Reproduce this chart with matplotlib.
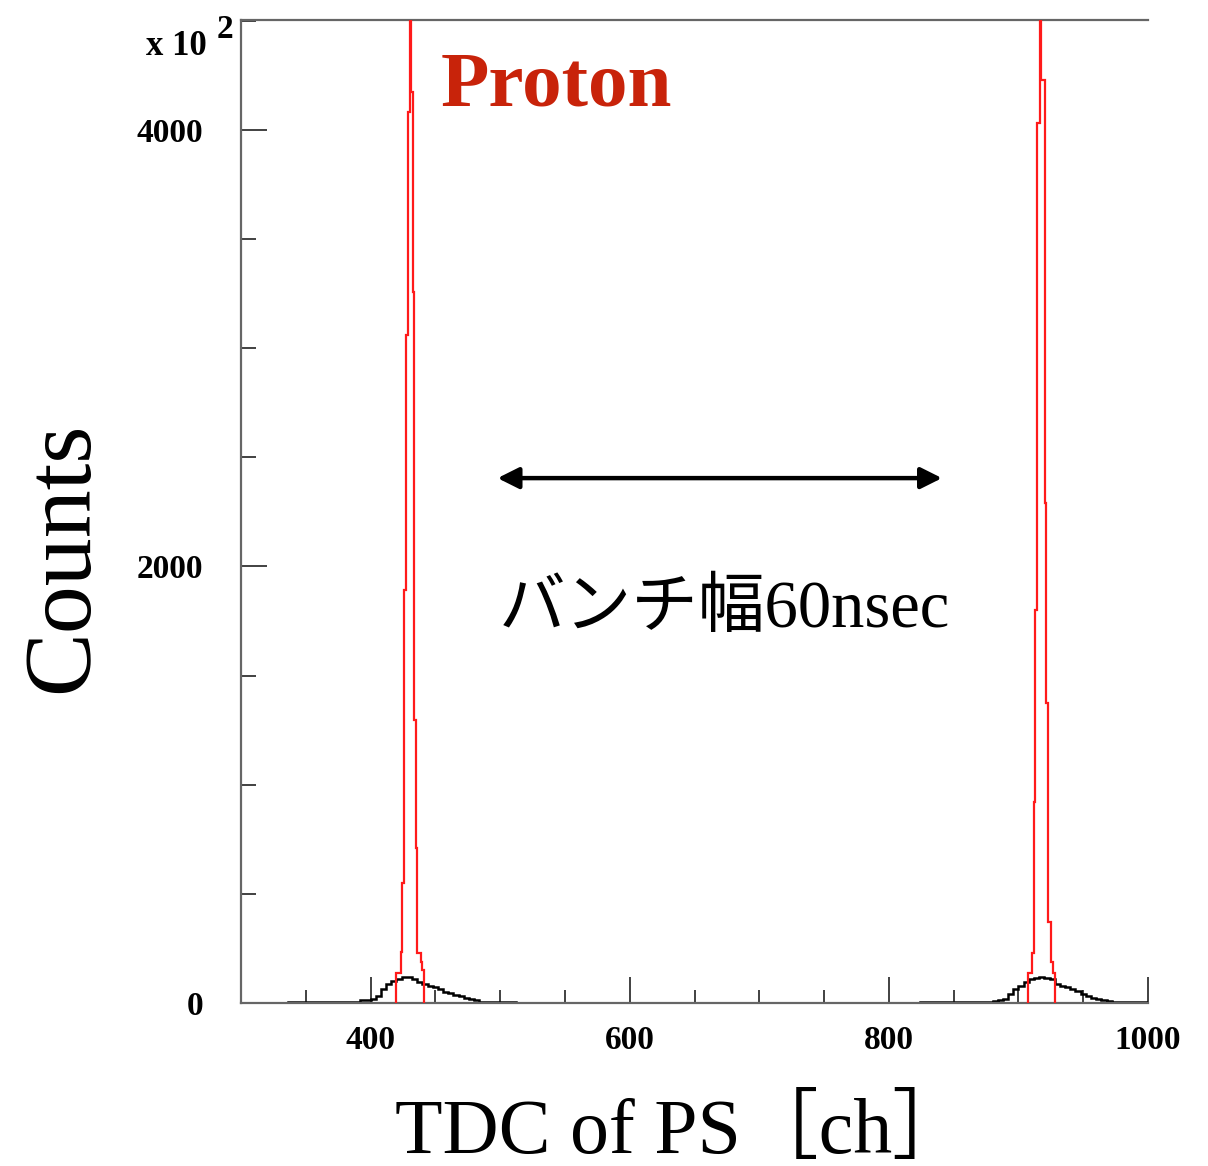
import numpy as np
import matplotlib
matplotlib.use("Agg")
import matplotlib.pyplot as plt

# proton peaks (red), bin edges in ch, counts in units of 10^2
red_left_edges = [419.8, 423.5, 424.5, 426.0, 427.6, 429.1, 430.7, 431.4,
                  432.4, 433.5, 434.8, 436.1, 438.6, 439.9, 440.9]
red_left_counts = [137, 234, 550, 1892, 3061, 4082, 4800, 4174,
                   3258, 1296, 710, 229, 188, 151]
red_right_edges = [907.7, 910.5, 911.7, 913.1, 914.6, 916.4, 917.7,
                   920.3, 921.6, 922.9, 925.4, 926.7, 928.5]
red_right_counts = [137, 229, 921, 1800, 4032, 4800, 4229,
                    2291, 1375, 371, 188, 137]

# all particles (black), 4 ch bins
black_left_edges = np.arange(336, 513, 4)
black_left_counts = [3, 3, 3, 3, 3, 3, 3, 3, 3, 3, 3, 3, 3, 3,
                     12, 14, 20, 30, 65, 88, 102, 112, 118, 118, 110, 95,
                     87, 80, 72, 66, 52, 45, 37, 30, 23, 18, 12,
                     3, 3, 3, 3, 3, 3, 3]
black_right_edges = np.arange(824, 1001, 4)
black_right_counts = [3, 3, 3, 3, 3, 3, 3, 3, 3, 3, 3, 3, 3, 3,
                      10, 12, 20, 40, 65, 80, 95, 108, 115, 118, 115, 108,
                      85, 80, 74, 65, 55, 40, 32, 25, 18, 14, 10,
                      3, 3, 3, 3, 3, 3, 3]

x_major = [400, 600, 800, 1000]
x_minor = np.arange(350, 1001, 50)
y_major = [0, 2000, 4000]
y_minor = np.arange(0, 4501, 500)

W, H = 1208, 1166
fig = plt.figure(figsize=(W / 100, H / 100), dpi=100)
ax = fig.add_axes([241 / W, 1 - 1003 / H, (1148 - 241) / W, (1003 - 20) / H])

ax.stairs(black_left_counts, black_left_edges, baseline=0, color="black", lw=1.8, zorder=2)
ax.stairs(black_right_counts, black_right_edges, baseline=0, color="black", lw=1.8, zorder=2)
ax.stairs(red_left_counts, red_left_edges, baseline=0, color="#ff1a1a", lw=1.6, zorder=3)
ax.stairs(red_right_counts, red_right_edges, baseline=0, color="#ff1a1a", lw=1.6, zorder=3)

ax.set_xlim(300, 1000)
ax.set_ylim(0, 4504)

for side in ["left", "bottom", "top"]:
    ax.spines[side].set_color("#666666")
    ax.spines[side].set_linewidth(1.6)
ax.spines["right"].set_visible(False)

tick_font = {"family": "Liberation Serif", "weight": "bold", "size": 24}
ax.set_xticks(x_major)
ax.set_xticks(x_minor, minor=True)
ax.set_yticks(y_major)
ax.set_yticks(y_minor, minor=True)
ax.set_xticklabels([str(v) for v in x_major], fontdict=tick_font)
ax.set_yticklabels([str(v) for v in y_major], fontdict=tick_font)
ax.tick_params(axis="x", which="major", direction="in", length=19, width=1.3,
               color="#333333", pad=16, top=False)
ax.tick_params(axis="x", which="minor", direction="in", length=9.5, width=1.3,
               color="#333333", top=False)
ax.tick_params(axis="y", which="major", direction="in", length=19, width=1.3,
               color="#333333", pad=27, right=False)
ax.tick_params(axis="y", which="minor", direction="in", length=11, width=1.3,
               color="#333333", right=False)

# exponent label
fig.text(146 / W, 1 - 55 / H, "x 10", fontsize=25, fontweight="bold",
         family="Liberation Serif", ha="left", va="baseline")
fig.text(217 / W, 1 - 38 / H, "2", fontsize=24, fontweight="bold",
         family="Liberation Serif", ha="left", va="baseline")

ax.text(454, 4110, "Proton", color="#c8230a", fontsize=57, fontweight="bold",
        family="Liberation Serif", ha="left", va="baseline")

ax.annotate("", xy=(498, 2405), xytext=(841, 2405),
            arrowprops=dict(arrowstyle="<|-|>", color="black", lw=3.2,
                            mutation_scale=32, shrinkA=0, shrinkB=0))
ax.text(673, 1723, "バンチ幅60nsec", fontsize=48,
        family=["Liberation Serif", "Noto Sans CJK JP"], ha="center", va="baseline")

fig.text(64 / W, 1 - 557 / H, "Counts", rotation=90, fontsize=69,
         family="Liberation Serif", ha="center", va="center")
fig.text(395 / W, 1 - 1153 / H, "TDC of PS［ch］", fontsize=56,
         family=["Liberation Serif", "Noto Sans CJK JP"], ha="left", va="baseline")

fig.savefig("out.png", dpi=100)
